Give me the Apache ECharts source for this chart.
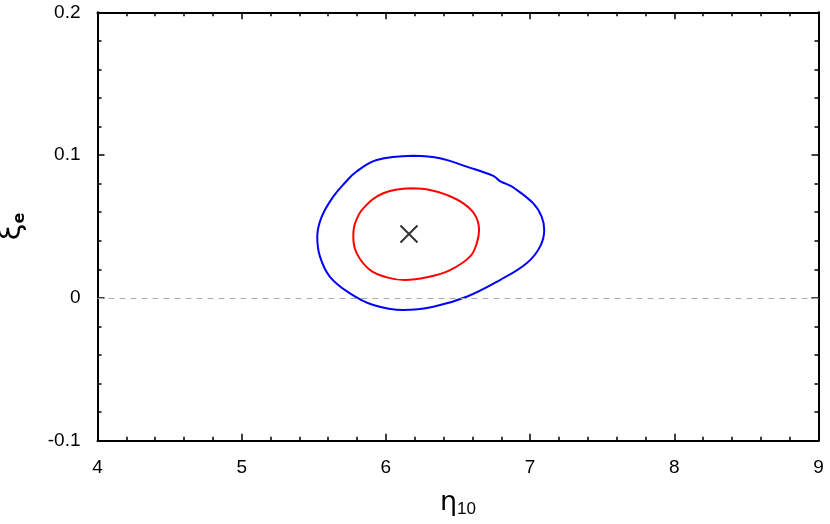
<!DOCTYPE html>
<html>
<head>
<meta charset="utf-8">
<script src="https://cdn.jsdelivr.net/npm/echarts@6/dist/echarts.min.js"></script>
<style>
html, body { margin: 0; padding: 0; background: #fff; }
#chart { width: 830px; height: 524px; }
</style>
</head>
<body>
<div id="chart"></div>
<script>
// outer contour (blue)
var blueEta = [6.190, 6.375, 6.560, 6.745, 6.791, 6.830, 6.884, 7.022, 7.080, 7.098, 7.069, 6.976, 6.791, 6.560, 6.329, 6.121, 5.913, 5.751, 5.612, 5.543, 5.524, 5.555, 5.635, 5.720, 5.790, 5.936, 6.190];
var blueXi = [0.0996, 0.0978, 0.0919, 0.0854, 0.0818, 0.0800, 0.0773, 0.0662, 0.0569, 0.0475, 0.0359, 0.0242, 0.0125, 0.0008, -0.0062, -0.0085, -0.0050, 0.0032, 0.0148, 0.0289, 0.0429, 0.0569, 0.0709, 0.0810, 0.0880, 0.0966, 0.0996];
// inner contour (red)
var redEta = [6.179, 6.306, 6.422, 6.537, 6.618, 6.646, 6.630, 6.583, 6.445, 6.283, 6.132, 6.006, 5.890, 5.798, 5.774, 5.786, 5.843, 5.982, 6.179];
var redXi = [0.0768, 0.0756, 0.0721, 0.0662, 0.0581, 0.0475, 0.0382, 0.0289, 0.0195, 0.0144, 0.0125, 0.0144, 0.0195, 0.0312, 0.0429, 0.0522, 0.0627, 0.0733, 0.0768];
// best fit point
var bestFit = [6.16, 0.0447];

var xTicks = [4, 5, 6, 7, 8, 9];
var yTicks = [-0.1, 0, 0.1, 0.2];

function pairs(xs, ys) {
	var out = [];
	for (var i = 0; i < xs.length; i++) {
		out.push([xs[i], ys[i]]);
	}
	return out;
}

var font = 'Liberation Sans';
var tickStyle = { show: true, inside: true, length: 7, lineStyle: { color: '#000', width: 1.5 } };
var minorStyle = { show: true, splitNumber: 5, length: 4, lineStyle: { color: '#000', width: 1.5 } };
var lineStyle = { show: true, onZero: false, lineStyle: { color: '#000', width: 2 } };

var option = {
	animation: false,
	textStyle: { fontFamily: font, fontSize: 19 },
	grid: { left: 97.5, right: 11.5, top: 12.3, bottom: 83.3, containLabel: false, outerBoundsMode: 'none' },
	xAxis: [{
		type: 'value',
		min: xTicks[0],
		max: xTicks[xTicks.length - 1],
		interval: 1,
		axisLine: lineStyle,
		axisTick: tickStyle,
		minorTick: minorStyle,
		splitLine: { show: false },
		axisLabel: { color: '#000', fontSize: 19, fontFamily: font, margin: 18 },
		name: '{a|η}{s|10}',
		nameLocation: 'middle',
		nameGap: 48,
		nameTextStyle: {
			rich: {
				a: { fontSize: 27, fontFamily: 'DejaVu Sans', color: '#000' },
				s: { fontSize: 17, fontFamily: 'Liberation Sans', color: '#000', verticalAlign: 'bottom', padding: [12, 0, 0, 0] }
			}
		}
	}, {
		type: 'value',
		position: 'top',
		min: xTicks[0],
		max: xTicks[xTicks.length - 1],
		interval: 1,
		axisLine: lineStyle,
		axisTick: tickStyle,
		minorTick: minorStyle,
		splitLine: { show: false },
		axisLabel: { show: false }
	}],
	yAxis: [{
		type: 'value',
		min: yTicks[0],
		max: yTicks[yTicks.length - 1],
		interval: 0.1,
		axisLine: lineStyle,
		axisTick: tickStyle,
		minorTick: minorStyle,
		splitLine: { show: false },
		axisLabel: {
			color: '#000', fontSize: 19, fontFamily: font, margin: 17,
			formatter: function (v) { return String(Math.round(v * 10) / 10); }
		},
		name: '{a|ξ}{s|e}',
		nameLocation: 'middle',
		nameGap: 70,
		nameTextStyle: {
			rich: {
				a: { fontSize: 30, fontFamily: 'DejaVu Sans', color: '#000' },
				s: { fontSize: 16, fontFamily: 'DejaVu Sans', fontWeight: 'bold', color: '#000', verticalAlign: 'bottom', padding: [10, 0, 0, 0] }
			}
		}
	}, {
		type: 'value',
		position: 'right',
		min: yTicks[0],
		max: yTicks[yTicks.length - 1],
		interval: 0.1,
		axisLine: lineStyle,
		axisTick: tickStyle,
		minorTick: minorStyle,
		splitLine: { show: false },
		axisLabel: { show: false }
	}],
	series: [{
		type: 'line',
		data: pairs(blueEta, blueXi),
		smooth: 0.4,
		showSymbol: false,
		lineStyle: { color: '#0000ff', width: 2 },
		markLine: {
			silent: true,
			symbol: 'none',
			label: { show: false },
			lineStyle: { color: '#aaaaaa', type: [6, 5], width: 1 },
			data: [{ yAxis: 0 }]
		}
	}, {
		type: 'line',
		data: pairs(redEta, redXi),
		smooth: 0.4,
		showSymbol: false,
		lineStyle: { color: '#ff0000', width: 2 }
	}, {
		type: 'scatter',
		data: [bestFit],
		symbol: 'path://M0,0L10,10M10,0L0,10',
		symbolSize: 17,
		itemStyle: { color: 'none', borderColor: '#000', borderWidth: 2 }
	}]
};

var myChart = echarts.init(document.getElementById('chart'));
myChart.setOption(option);
</script>
</body>
</html>
